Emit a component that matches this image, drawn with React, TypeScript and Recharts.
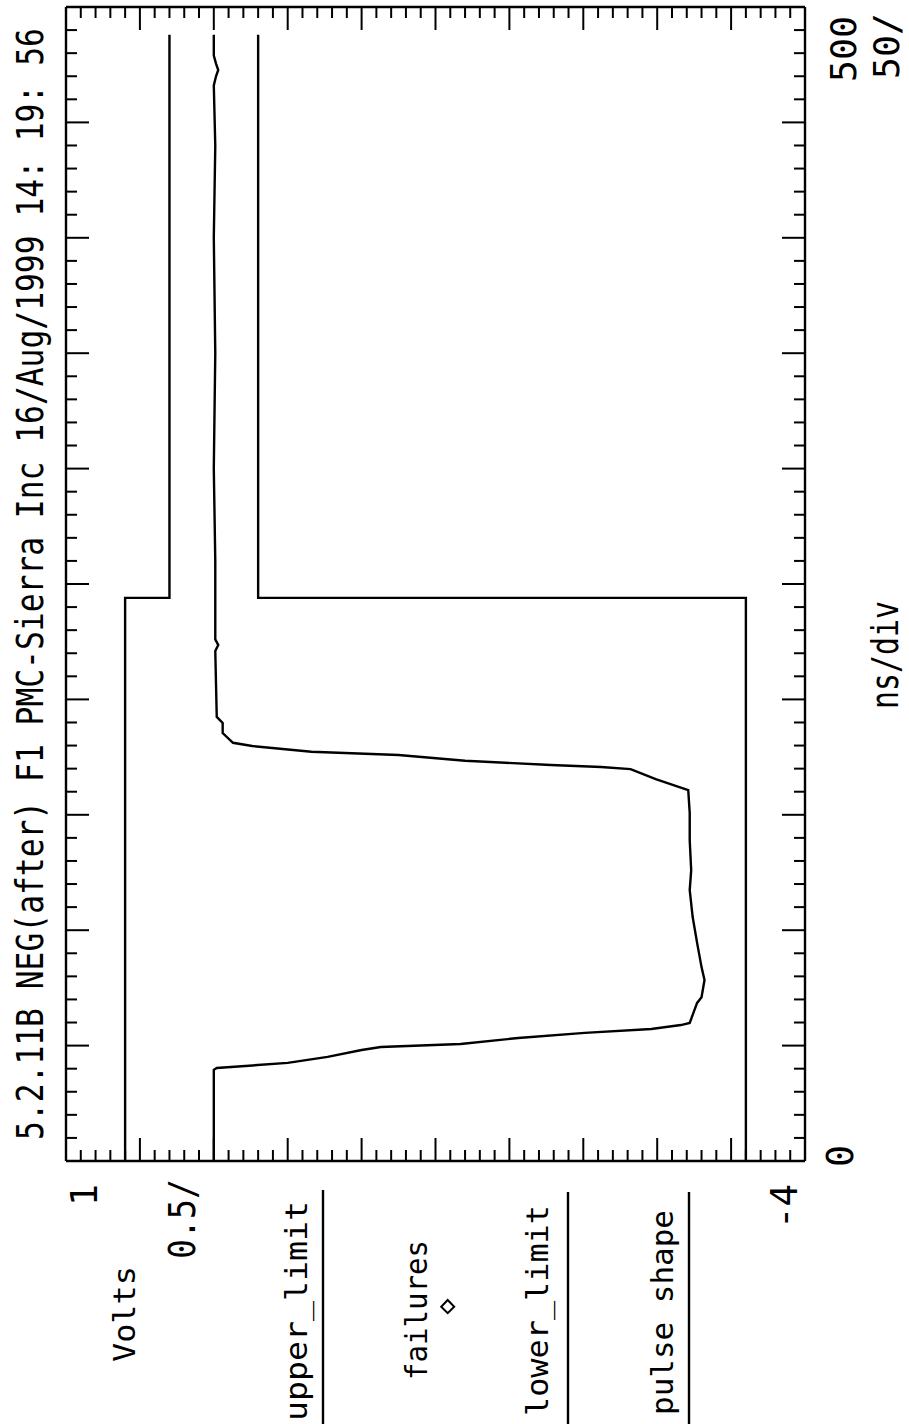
import React from 'react';
import { ScatterChart, Scatter, XAxis, YAxis } from 'recharts';

const W = 909;
const H = 1424;
const PLOT_LEFT = 66;
const PLOT_RIGHT = 805;
const PLOT_TOP = 7;
const PLOT_BOTTOM = 1161;
const AX = 1; // thickness reserved for each axis box

// time in ns, voltage in V
const upperLimitTime = [0, 244, 244, 488];
const upperLimitVolts = [0.6, 0.6, 0.3, 0.3];

const lowerLimitTime = [0, 244, 244, 488];
const lowerLimitVolts = [-3.6, -3.6, -0.3, -0.3];

const pulseTime = [
  0, 39.5, 40.3, 42.5, 45.1, 48.1, 49.4, 50.7, 53.3, 55.5, 57.2, 58.9, 59.8,
  63.3, 68.5, 71, 78.4, 84, 94.5, 105.7, 117.4, 126, 139, 150.8, 160.7, 165.5,
  169.8, 170.7, 171.6, 173.4, 175.9, 177.3, 179.8, 181.2, 185.4, 189.8, 192.4,
  221, 223.6, 226, 260, 300, 350, 400, 440, 466, 470, 472.7, 475.5, 479, 488,
];
const pulseVolts = [
  0, 0, -0.02, -0.5, -0.77, -1.0, -1.13, -1.67, -2.06, -2.51, -2.96, -3.16, -3.22,
  -3.24, -3.27, -3.3, -3.32, -3.3, -3.27, -3.24, -3.22, -3.23, -3.22, -3.22, -3.21, -2.99,
  -2.82, -2.62, -2.28, -1.7, -1.25, -0.66, -0.26, -0.13, -0.06, -0.06, -0.02,
  -0.01, -0.03, -0.01, -0.01, 0.0, -0.01, 0.0, -0.01, 0.0, -0.015, -0.03, -0.015, 0.0, 0.0,
];

const voltTicks = Array.from({ length: 51 }, (_, i) => Math.round((-4 + i * 0.1) * 10) / 10);
const timeTicks = Array.from({ length: 51 }, (_, i) => i * 10);

const titleText = '5.2.11B NEG(after) F1 PMC-Sierra Inc 16/Aug/1999 14: 19: 56';
const legendLabels = ['upper_limit', 'failures', 'lower_limit', 'pulse shape'];

const toPoints = (ts: number[], vs: number[]) => ts.map((t, i) => ({ t, v: vs[i] }));
const upperData = toPoints(upperLimitTime, upperLimitVolts);
const lowerData = toPoints(lowerLimitTime, lowerLimitVolts);
const pulseData = toPoints(pulseTime, pulseVolts);

const MINOR = 11;
const MAJOR = 23;
const isLongVolt = (v: number) => Math.abs(v * 2 - Math.round(v * 2)) < 1e-6;
const isLongTime = (t: number) => Math.abs(t % 50) < 1e-6;

const BottomTick = (p: any) => {
  const len = isLongVolt(p.payload.value) ? MAJOR : MINOR;
  return <line x1={p.x} y1={p.y} x2={p.x} y2={p.y - len} stroke="#000" strokeWidth={2} />;
};
const TopTick = (p: any) => {
  const len = isLongVolt(p.payload.value) ? MAJOR : MINOR;
  return <line x1={p.x} y1={p.y} x2={p.x} y2={p.y + len} stroke="#000" strokeWidth={2} />;
};
const LeftTick = (p: any) => {
  const len = isLongTime(p.payload.value) ? MAJOR : MINOR;
  return <line x1={p.x} y1={p.y} x2={p.x + len} y2={p.y} stroke="#000" strokeWidth={2} />;
};
const RightTick = (p: any) => {
  const len = isLongTime(p.payload.value) ? MAJOR : MINOR;
  return <line x1={p.x} y1={p.y} x2={p.x - len} y2={p.y} stroke="#000" strokeWidth={2} />;
};

const FONT = "'DejaVu Sans Mono', monospace";
const MONO_ADV = 0.60205;

// rotated text (reads bottom to top), scaled horizontally to a target length
const RText = ({ x, y, size, len, children }: any) => {
  const s = String(children);
  const natural = s.length * MONO_ADV * size;
  const k = len / natural;
  return (
    <text
      transform={`translate(${x},${y}) rotate(-90) scale(${k.toFixed(4)},1)`}
      fontFamily={FONT}
      fontSize={size}
      fill="#000"
    >
      {s}
    </text>
  );
};

const noShape = () => <g />;
const lineStyle = { stroke: '#000', strokeWidth: 2.4, fill: 'none' };
const axisLineStyle = { stroke: '#000', strokeWidth: 2.4 };

export default function App() {
  return (
    <div style={{ position: 'absolute', left: 0, top: 0, width: W, height: H, overflow: 'hidden', background: '#fff' }}>
      <ScatterChart
        width={W}
        height={H}
        margin={{
          top: PLOT_TOP - AX,
          right: W - PLOT_RIGHT - AX,
          bottom: H - PLOT_BOTTOM - AX,
          left: PLOT_LEFT - AX,
        }}
      >
        <XAxis
          xAxisId="b"
          dataKey="v"
          type="number"
          domain={[-4, 1]}
          reversed
          allowDataOverflow
          orientation="bottom"
          height={AX}
          ticks={voltTicks}
          interval={0}
          tickSize={0}
          tickMargin={0}
          tickLine={false}
          tick={BottomTick}
          axisLine={axisLineStyle}
        />
        <XAxis
          xAxisId="t"
          dataKey="v"
          type="number"
          domain={[-4, 1]}
          reversed
          allowDataOverflow
          orientation="top"
          height={AX}
          ticks={voltTicks}
          interval={0}
          tickSize={0}
          tickMargin={0}
          tickLine={false}
          tick={TopTick}
          axisLine={axisLineStyle}
        />
        <YAxis
          yAxisId="l"
          dataKey="t"
          type="number"
          domain={[0, 500]}
          allowDataOverflow
          orientation="left"
          width={AX}
          ticks={timeTicks}
          interval={0}
          tickSize={0}
          tickMargin={0}
          tickLine={false}
          tick={LeftTick}
          axisLine={axisLineStyle}
        />
        <YAxis
          yAxisId="r"
          dataKey="t"
          type="number"
          domain={[0, 500]}
          allowDataOverflow
          orientation="right"
          width={AX}
          ticks={timeTicks}
          interval={0}
          tickSize={0}
          tickMargin={0}
          tickLine={false}
          tick={RightTick}
          axisLine={axisLineStyle}
        />
        <Scatter
          name="upper_limit"
          data={upperData}
          xAxisId="b"
          yAxisId="l"
          stroke="#000"
          strokeWidth={2.4}
          line={lineStyle}
          lineType="joint"
          shape={noShape}
          isAnimationActive={false}
        />
        <Scatter
          name="lower_limit"
          data={lowerData}
          xAxisId="b"
          yAxisId="l"
          stroke="#000"
          strokeWidth={2.4}
          line={lineStyle}
          lineType="joint"
          shape={noShape}
          isAnimationActive={false}
        />
        <Scatter
          name="pulse shape"
          data={pulseData}
          xAxisId="b"
          yAxisId="l"
          stroke="#000"
          strokeWidth={2.4}
          line={lineStyle}
          lineType="joint"
          shape={noShape}
          isAnimationActive={false}
        />
      </ScatterChart>
      <svg
        width={W}
        height={H}
        style={{ position: 'absolute', left: 0, top: 0, pointerEvents: 'none' }}
      >
        <RText x={43} y={1140} size={37} len={1112}>{titleText}</RText>
        <RText x={97} y={1206} size={37} len={22}>1</RText>
        <RText x={195} y={1259} size={37} len={80}>0.5/</RText>
        <RText x={135} y={1362} size={30} len={96}>Volts</RText>
        <RText x={307} y={1421} size={30} len={220}>{legendLabels[0]}</RText>
        <line x1={323} y1={1190} x2={323} y2={H} stroke="#000" strokeWidth={2.4} />
        <RText x={427} y={1380} size={30} len={140}>{legendLabels[1]}</RText>
        <polygon points="447.7,1300 454.2,1306.7 447.7,1313.2 441.2,1306.7" fill="none" stroke="#000" strokeWidth={2} />
        <RText x={548} y={1416} size={30} len={211}>{legendLabels[2]}</RText>
        <line x1={568} y1={1192} x2={568} y2={H} stroke="#000" strokeWidth={2.4} />
        <RText x={673} y={1415} size={30} len={205}>{legendLabels[3]}</RText>
        <line x1={689} y1={1192} x2={689} y2={H} stroke="#000" strokeWidth={2.4} />
        <RText x={797} y={1229} size={37} len={45}>-4</RText>
        <RText x={853} y={1167} size={37} len={22}>0</RText>
        <RText x={856} y={82} size={36} len={66}>500</RText>
        <RText x={899} y={79} size={36} len={66}>50/</RText>
        <RText x={898} y={709} size={38} len={108}>ns/div</RText>
      </svg>
    </div>
  );
}
